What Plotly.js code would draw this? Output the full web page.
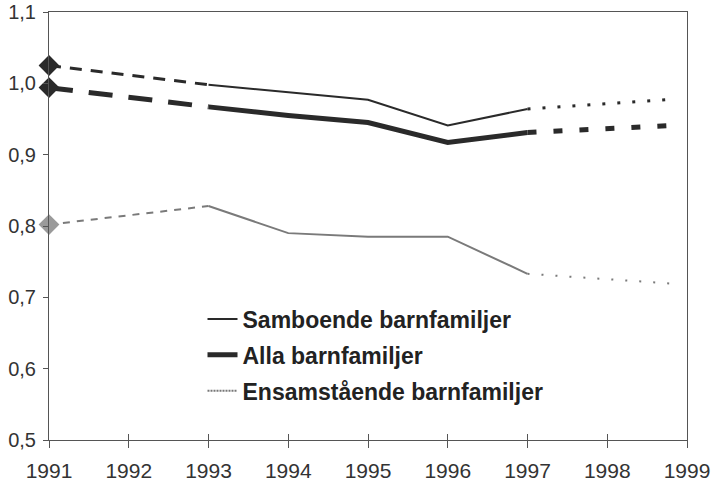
<!DOCTYPE html>
<html><head><meta charset="utf-8">
<script src="https://cdn.plot.ly/plotly-3.0.1.min.js"></script>
<style>html,body{margin:0;padding:0;background:#fff}</style>
</head><body>
<div id="chart" style="width:719px;height:484px"></div>
<script>
const years = [1991, 1993, 1994, 1995, 1996, 1997, 1998.85];
const samboende = [1.025, 0.998, 0.988, 0.977, 0.941, 0.964, 0.978];
const alla = [0.994, 0.967, 0.955, 0.945, 0.917, 0.931, 0.941];
const ensam = [0.802, 0.828, 0.790, 0.785, 0.785, 0.733, 0.719];
const names = ['Samboende barnfamiljer', 'Alla barnfamiljer', 'Ensamstående barnfamiljer'];
const tickYears = [1991, 1992, 1993, 1994, 1995, 1996, 1997, 1998, 1999];

const styles = [
  {data: samboende, color: '#2a2a2a', w: [3, 2, 3], dash: ['12px,9px', 'solid', '3px,12px'], mcolor: '#2a2a2a', leg: {color: '#2a2a2a', width: 2, dash: 'solid'}},
  {data: alla, color: '#2a2a2a', w: [5, 5, 5], dash: ['24px,16px', 'solid', '9px,17px'], mcolor: '#2a2a2a', leg: {color: '#2a2a2a', width: 5, dash: 'solid'}},
  {data: ensam, color: '#7a7a7a', w: [2, 2, 2], dash: ['7px,7px', 'solid', '2px,12px'], mcolor: '#9a9a9a', leg: {color: '#777', width: 2, dash: '2px,1px'}}
];
const segs = [[0, 2], [1, 6], [5, 7]];
const traces = [];
styles.forEach((s, i) => {
  segs.forEach((r, k) => {
    traces.push({
      x: years.slice(r[0], r[1]), y: s.data.slice(r[0], r[1]),
      type: 'scatter', mode: 'lines', name: names[i],
      line: {color: s.color, width: s.w[k], dash: s.dash[k]},
      showlegend: false, hoverinfo: 'skip', cliponaxis: false
    });
  });
  traces.push({
    x: years.slice(0, 1), y: s.data.slice(0, 1), type: 'scatter', mode: 'markers',
    marker: {symbol: 'diamond', size: 16, color: s.mcolor, line: {width: 0}},
    showlegend: false, hoverinfo: 'skip', cliponaxis: false
  });
  // legend entry
  traces.push({x: [null], y: [null], type: 'scatter', mode: 'lines', name: names[i],
    line: s.leg, legendgroup: 'g' + i, showlegend: true, hoverinfo: 'skip'});
});
// inside tick marks on x axis (crossing ticks)
traces.push({x: [null], y: [null], xaxis: 'x2', yaxis: 'y', showlegend: false, type: 'scatter'});

const axfont = {family: 'Liberation Sans, Arial, sans-serif', size: 21, color: '#333'};
const layout = {
  width: 719, height: 484,
  margin: {l: 49, r: 32, t: 12, b: 44},
  paper_bgcolor: '#fff', plot_bgcolor: '#fff',
  separators: ', ',
  showlegend: true,
  legend: {x: 0.2406, y: 0.333, xanchor: 'left', yanchor: 'top', bgcolor: 'rgba(0,0,0,0)',
           tracegroupgap: 3,
           font: {family: 'Liberation Sans, Arial, sans-serif', size: 23, color: '#222', weight: 'bold'}},
  xaxis: {range: [1991, 1999], tickvals: tickYears, ticktext: tickYears.map(String),
          showgrid: false, zeroline: false, showline: true, linecolor: '#555', linewidth: 1,
          mirror: true, ticks: 'outside', ticklen: 7, tickcolor: '#555', tickfont: axfont,
          ticklabelstandoff: 5, ticklabeloverflow: 'allow'},
  xaxis2: {range: [1991, 1999], tickvals: tickYears, overlaying: 'x', showticklabels: false,
           showgrid: false, zeroline: false, ticks: 'inside', ticklen: 6, tickcolor: '#555', showline: false},
  yaxis: {range: [0.5, 1.1], dtick: 0.1, tick0: 0.5, tickformat: '.1f',
          showgrid: false, zeroline: false, showline: true, linecolor: '#555', linewidth: 1,
          mirror: true, ticks: 'outside', ticklen: 5, tickcolor: '#555',
          tickfont: {family: 'Liberation Sans, Arial, sans-serif', size: 20, color: '#333'},
          ticklabelstandoff: 3, ticklabeloverflow: 'allow'}
};
Plotly.newPlot('chart', traces, layout, {displayModeBar: false, staticPlot: true});
</script>
</body></html>
